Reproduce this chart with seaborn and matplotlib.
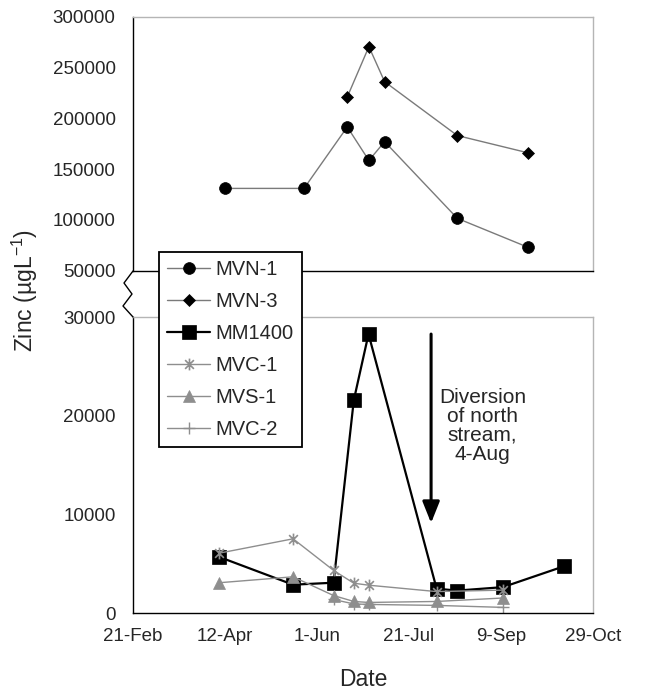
import numpy as np
import pandas as pd
import matplotlib
matplotlib.use("Agg")
import matplotlib.pyplot as plt
import matplotlib.dates as mdates
from matplotlib.lines import Line2D
from matplotlib.path import Path
import seaborn as sns

sns.set_style("white")
plt.rcParams['font.family'] = ['Liberation Sans', 'DejaVu Sans']
plt.rcParams['mathtext.fontset'] = 'custom'
plt.rcParams['mathtext.rm'] = 'Liberation Sans'
plt.rcParams['mathtext.it'] = 'Liberation Sans:italic'

# ---------------- data ----------------
mvn1_dates = ['2003-04-09', '2003-05-19', '2003-06-10', '2003-06-21', '2003-06-29', '2003-08-05', '2003-09-10']
mvn1_vals = [131000, 131000, 191500, 158500, 177000, 101500, 73000]

mvn3_dates = ['2003-06-10', '2003-06-21', '2003-06-29', '2003-08-05', '2003-09-10']
mvn3_vals = [221000, 270500, 236000, 183000, 166000]

mm1400_dates = ['2003-04-09', '2003-05-19', '2003-06-10', '2003-06-21', '2003-06-29',
                '2003-08-05', '2003-08-16', '2003-09-10', '2003-10-13']
mm1400_vals = [5700, 2900, 3100, 21600, 28300, 2500, 2300, 2650, 4750]

mvc1_dates = ['2003-04-09', '2003-05-19', '2003-06-10', '2003-06-21', '2003-06-29', '2003-08-05', '2003-09-10']
mvc1_vals = [6100, 7550, 4350, 3050, 2850, 2200, 2350]

mvs1_dates = ['2003-04-09', '2003-05-19', '2003-06-10', '2003-06-21', '2003-06-29', '2003-08-05', '2003-09-10']
mvs1_vals = [3100, 3700, 1800, 1200, 1100, 1200, 1550]

mvc2_dates = ['2003-06-10', '2003-06-21', '2003-06-29', '2003-08-05', '2003-09-10']
mvc2_vals = [1400, 950, 900, 800, 600]

tick_dates = ['2003-02-21', '2003-04-12', '2003-06-01', '2003-07-21', '2003-09-09', '2003-10-29']
tick_labels = ['21-Feb', '12-Apr', '1-Jun', '21-Jul', '9-Sep', '29-Oct']

top_yticks = [50000, 100000, 150000, 200000, 250000, 300000]
bot_yticks = [0, 10000, 20000, 30000]

diversion_date = '2003-08-02'
diversion_text = "Diversion\nof north\nstream,\n4-Aug"

# ---------------- layout ----------------
W, H = 655, 690
fig = plt.figure(figsize=(W / 100, H / 100), dpi=100)
fig.patch.set_facecolor('white')


def rect(l, t, r, b):
    return [l / W, 1 - b / H, (r - l) / W, (b - t) / H]


ax_top = fig.add_axes(rect(133, 16.7, 593, 270.7))
ax_bot = fig.add_axes(rect(133, 317.3, 593, 613.3))

asterisk = Path([(-1, -1), (1, 1), (-1, 1), (1, -1), (0, -1.35), (0, 1.35)],
                [Path.MOVETO, Path.LINETO, Path.MOVETO, Path.LINETO, Path.MOVETO, Path.LINETO])

GRAY_LINE = '#7a7a7a'
GRAY = '#8e8e8e'

series = [
    # name, dates, vals, axis, line color, lw, marker, ms, mfc, mec, mew
    ('MVN-1', mvn1_dates, mvn1_vals, ax_top, GRAY_LINE, 1.0, 'o', 8.5, 'black', 'black', 0.5),
    ('MVN-3', mvn3_dates, mvn3_vals, ax_top, GRAY_LINE, 1.0, 'D', 6.2, 'black', 'black', 0.5),
    ('MM1400', mm1400_dates, mm1400_vals, ax_bot, 'black', 1.6, 's', 10, 'black', 'black', 0.5),
    ('MVC-1', mvc1_dates, mvc1_vals, ax_bot, GRAY, 1.0, asterisk, 8.5, GRAY, GRAY, 1.2),
    ('MVS-1', mvs1_dates, mvs1_vals, ax_bot, GRAY, 1.0, '^', 8.5, GRAY, GRAY, 0.5),
    ('MVC-2', mvc2_dates, mvc2_vals, ax_bot, GRAY, 1.0, '+', 9, GRAY, GRAY, 1.0),
]

handles = []
for name, d, v, ax, col, lw, mk, ms, mfc, mec, mew in series:
    df = pd.DataFrame({'date': pd.to_datetime(d), 'val': v})
    sns.lineplot(data=df, x='date', y='val', ax=ax, color=col, lw=lw, marker=mk,
                 markersize=ms, markerfacecolor=mfc, markeredgecolor=mec,
                 markeredgewidth=mew, legend=False, estimator=None)
    handles.append(Line2D([], [], color=col, lw=lw, marker=mk, markersize=ms,
                          markerfacecolor=mfc, markeredgecolor=mec, markeredgewidth=mew,
                          label=name))

tdates = pd.to_datetime(tick_dates)
start = tdates[0]

for ax in (ax_top, ax_bot):
    ax.set_xlabel('')
    ax.set_ylabel('')
    ax.grid(False)
    ax.set_facecolor('white')
    for s in ('left', 'bottom'):
        ax.spines[s].set_color('black')
        ax.spines[s].set_linewidth(1.0)
    for s in ('top', 'right'):
        ax.spines[s].set_color('#b5b5b5')
        ax.spines[s].set_linewidth(1.0)
    ax.tick_params(axis='x', direction='inout', length=7.5, width=1.0, color='black')
    ax.tick_params(axis='y', direction='out', length=3.5, width=1.0, color='black',
                   labelsize=13.5, pad=9)
    ax.set_xticks(tdates)

# top panel
ax_top.set_xlim(start, start + pd.Timedelta(days=234))
ax_top.set_ylim(50000, 300000)
ax_top.set_yticks(top_yticks)
ax_top.set_yticklabels([str(t) for t in top_yticks])
ax_top.set_xticklabels([])

# bottom panel
ax_bot.set_xlim(start, tdates[-1])
ax_bot.set_ylim(0, 30000)
ax_bot.set_yticks(bot_yticks)
ax_bot.set_yticklabels([str(t) for t in bot_yticks])
ax_bot.set_xticklabels(tick_labels)
ax_bot.tick_params(axis='x', labelsize=13.5, pad=7)

# arrow & annotation
xd = mdates.date2num(pd.Timestamp(diversion_date))
ax_bot.annotate('', xy=(xd, 9150), xytext=(xd, 28300),
                arrowprops=dict(arrowstyle='-|>,head_length=0.65,head_width=0.26',
                                lw=2.2, color='black', mutation_scale=20,
                                shrinkA=0, shrinkB=0))
xt = mdates.date2num(pd.Timestamp('2003-08-30'))
ax_bot.text(xt, 18950, diversion_text, ha='center', va='center', fontsize=15,
            linespacing=1.0)

# axis labels
fig.text(363 / W, 1 - 679 / H, 'Date', ha='center', va='center', fontsize=16.5)
fig.text(25 / W, 1 - 290 / H, 'Zinc (µgL$^{-1}$)', ha='center', va='center',
         rotation=90, fontsize=16.5)

# axis break symbol
bx = np.array([133, 124, 132, 123, 133])
by = np.array([271, 283, 294, 306, 317])
fig.add_artist(Line2D(bx / W, 1 - by / H, transform=fig.transFigure, color='black', lw=1.0))

# legend
leg = fig.legend(handles=handles, loc='upper left',
                 bbox_to_anchor=(159 / W, 1 - 251.7 / H), bbox_transform=fig.transFigure,
                 fontsize=14.5, frameon=True, fancybox=False, framealpha=1,
                 edgecolor='black', handlelength=2.1, handletextpad=0.3,
                 labelspacing=0.64, borderpad=0.42, borderaxespad=0)
leg.get_frame().set_linewidth(1.3)

fig.savefig('out.png', dpi=100, facecolor='white')
